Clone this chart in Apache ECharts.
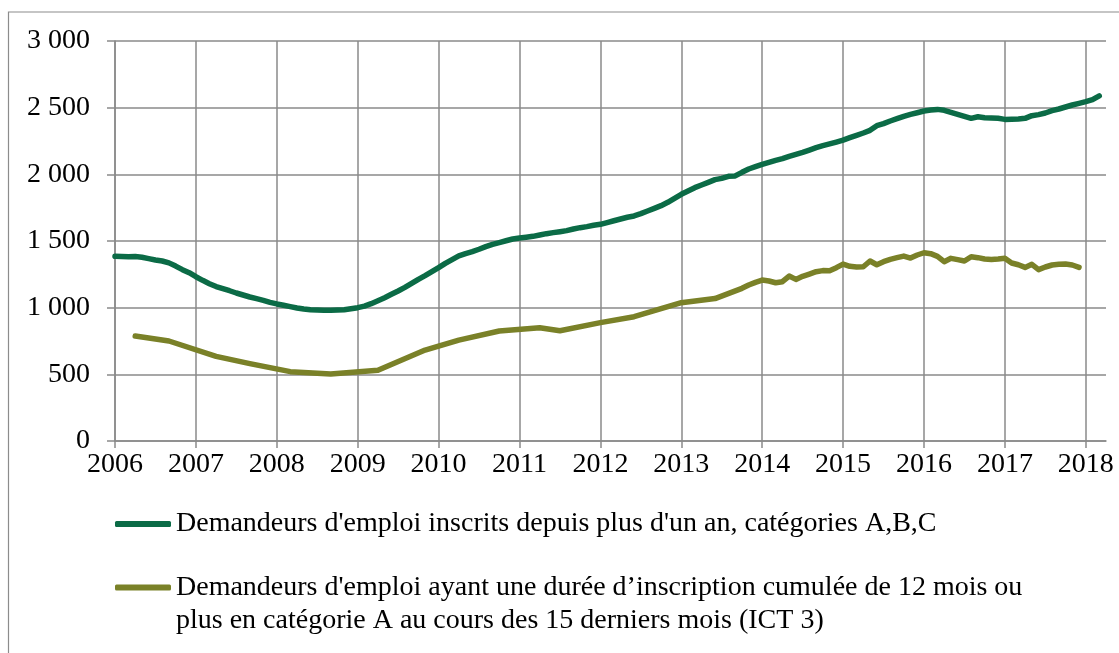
<!DOCTYPE html>
<html>
<head>
<meta charset="utf-8">
<script src="https://cdn.jsdelivr.net/npm/echarts/dist/echarts.min.js"></script>
<style>
  html, body { margin: 0; padding: 0; background: #fff; }
  #chart { width: 1119px; height: 653px; }
</style>
</head>
<body>
<div id="chart"></div>
<script>
// months from 2006-01 to 2018-04 (category axis)
let months = [];
for (let y = 2006; y <= 2018; y++) {
  for (let m = 1; m <= 12; m++) {
    if (y === 2018 && m > 4) break;
    months.push(y + "-" + (m < 10 ? "0" + m : m));
  }
}

let yTicks = [0, 500, 1000, 1500, 2000, 2500, 3000];

// Demandeurs d'emploi inscrits depuis plus d'un an, cat. A,B,C (monthly, 2006-01 .. 2018-03)
let abcValues = [
  1385, 1383, 1382, 1383, 1378, 1368, 1358, 1350, 1336, 1312, 1285, 1262,
  1232, 1205, 1180, 1158, 1142, 1127, 1110, 1095, 1080, 1068, 1055, 1040,
  1028, 1018, 1008, 998, 990, 984, 982, 980, 980, 982, 985, 992,
  1000, 1012, 1030, 1052, 1075, 1100, 1125, 1152, 1182, 1212, 1240, 1270,
  1300, 1332, 1360, 1388, 1405, 1420, 1438, 1458, 1475, 1488, 1502, 1515,
  1522, 1528, 1535, 1545, 1555, 1563, 1570, 1578, 1590, 1600, 1608, 1618,
  1625, 1638, 1652, 1665, 1678, 1688, 1705, 1725, 1745, 1765, 1790, 1820,
  1850, 1875, 1900, 1920, 1940, 1960, 1970, 1985, 1988, 2015, 2040, 2058,
  2075, 2090, 2105, 2118, 2135, 2150, 2165, 2182, 2200, 2215, 2228, 2242,
  2257, 2275, 2292, 2310, 2330, 2365, 2380, 2400, 2418, 2435, 2450, 2462,
  2475, 2482, 2487, 2480, 2465, 2450, 2435, 2420, 2432, 2425, 2422, 2420,
  2412, 2413, 2415, 2420, 2440, 2448, 2460, 2478, 2490, 2505, 2520, 2532,
  2545, 2560, 2588
];

// ICT 3
let ict3Dates = [
  "2006-04", "2006-09", "2007-04", "2007-09", "2008-03", "2008-09", "2009-04",
  "2009-11", "2010-04", "2010-10", "2011-04", "2011-07", "2012-01", "2012-06",
  "2013-01", "2013-06", "2013-10", "2013-11", "2013-12",
  "2014-01", "2014-02", "2014-03", "2014-04", "2014-05", "2014-06",
  "2014-07", "2014-08", "2014-09", "2014-10", "2014-11", "2014-12",
  "2015-01", "2015-02", "2015-03", "2015-04", "2015-05", "2015-06",
  "2015-07", "2015-08", "2015-09", "2015-10", "2015-11", "2015-12",
  "2016-01", "2016-02", "2016-03", "2016-04", "2016-05", "2016-06",
  "2016-07", "2016-08", "2016-09", "2016-10", "2016-11", "2016-12",
  "2017-01", "2017-02", "2017-03", "2017-04", "2017-05", "2017-06",
  "2017-07", "2017-08", "2017-09", "2017-10", "2017-11", "2017-12"
];
let ict3Values = [
  787, 750, 635, 580, 520, 502, 530,
  682, 757, 825, 850, 827, 888, 932,
  1037, 1068, 1145, 1170, 1190,
  1207, 1200, 1187, 1195, 1237, 1212,
  1235, 1252, 1270, 1278, 1277, 1300,
  1327, 1310, 1305, 1307, 1350, 1322,
  1345, 1362, 1375, 1387, 1372, 1395,
  1412, 1405, 1385, 1345, 1370, 1360,
  1350, 1382, 1375, 1365, 1362, 1365,
  1370, 1335, 1322, 1302, 1325, 1285,
  1305, 1320, 1325, 1327, 1320, 1302
];

let name1 = "Demandeurs d'emploi inscrits depuis plus d'un an, catégories A,B,C";
let name2 = "Demandeurs d'emploi ayant une durée d’inscription cumulée de 12 mois ou\nplus en catégorie A au cours des 15 derniers mois (ICT 3)";

let fontFamily = "'Liberation Serif', serif";
let gridColor = "#8a8a8a";
let isJanuary = function (index) { return index % 12 === 0; };

let myChart = echarts.init(document.getElementById("chart"));

let option = {
  animation: false,
  textStyle: { fontFamily: fontFamily },
  graphic: [
    {
      type: "rect",
      shape: { x: 8.5, y: 12, width: 1200, height: 700 },
      style: { fill: "none", stroke: "#8c8c8c", lineWidth: 1.2 },
    },
  ],
  grid: {
    left: 115,
    right: 13,
    top: 41,
    bottom: 212,
  },
  legend: [
    {
      data: [name1],
      left: 115,
      top: 508,
      padding: 0,
      icon: "roundRect",
      itemWidth: 56,
      itemHeight: 6,
      selectedMode: false,
      textStyle: { fontFamily: fontFamily, fontSize: 28, color: "#000", lineHeight: 32 },
    },
    {
      data: [name2],
      left: 115,
      top: 538,
      padding: 0,
      icon: "roundRect",
      itemWidth: 56,
      itemHeight: 6,
      selectedMode: false,
      // blank first line so the icon sits level with the first text line
      formatter: function (name) { return "\n" + name; },
      textStyle: { fontFamily: fontFamily, fontSize: 28, color: "#000", lineHeight: 33 },
    },
  ],
  xAxis: {
    type: "category",
    data: months,
    boundaryGap: false,
    axisLine: { lineStyle: { color: gridColor, width: 1.5 } },
    axisTick: { interval: isJanuary, length: 7, lineStyle: { color: gridColor, width: 1.5 } },
    splitLine: { show: true, interval: isJanuary, lineStyle: { color: gridColor, width: 1.5 } },
    axisLabel: {
      interval: isJanuary,
      margin: 10,
      fontFamily: fontFamily,
      fontSize: 28,
      color: "#000",
      formatter: function (v) { return v.slice(0, 4); },
    },
  },
  yAxis: {
    type: "value",
    min: yTicks[0],
    max: yTicks[yTicks.length - 1],
    interval: 500,
    axisLine: { show: true, lineStyle: { color: gridColor, width: 1.5 } },
    axisTick: { show: true, length: 8, lineStyle: { color: gridColor, width: 1.5 } },
    splitLine: { lineStyle: { color: gridColor, width: 1.5 } },
    axisLabel: {
      margin: 25,
      fontFamily: fontFamily,
      fontSize: 28,
      color: "#000",
      formatter: function (v) {
        return String(v).replace(/\B(?=(\d{3})+(?!\d))/g, " ");
      },
    },
  },
  series: [
    {
      name: name1,
      type: "line",
      data: abcValues,
      showSymbol: false,
      symbol: "none",
      lineStyle: { width: 5.5, color: "#0b6b46", cap: "round", join: "round" },
      itemStyle: { color: "#0b6b46" },
    },
    {
      name: name2,
      type: "line",
      data: ict3Dates.map(function (d, i) { return [d, ict3Values[i]]; }),
      showSymbol: false,
      symbol: "none",
      lineStyle: { width: 5.5, color: "#7a8128", cap: "round", join: "round" },
      itemStyle: { color: "#7a8128" },
    },
  ],
};

myChart.setOption(option);
</script>
</body>
</html>
